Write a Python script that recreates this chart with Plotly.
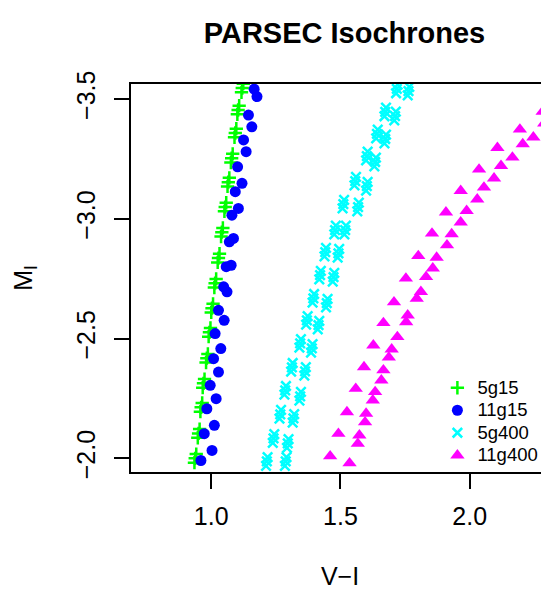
import plotly.graph_objects as go

# ---------------- data ----------------
series_names = ["5g15", "11g15", "5g400", "11g400"]

# 5g15 (green +)
green_x = [1.117, 1.120, 1.124, 1.101, 1.104, 1.108, 1.090, 1.093, 1.097,
           1.076, 1.079, 1.083, 1.063, 1.066, 1.070, 1.051, 1.054, 1.058,
           1.038, 1.041, 1.045, 1.025, 1.028, 1.032, 1.012, 1.015, 1.019,
           1.000, 1.003, 1.007, 0.990, 0.993, 0.997, 0.980, 0.983, 0.987,
           0.967, 0.970, 0.974, 0.958, 0.961, 0.965, 0.948, 0.951, 0.955,
           0.935, 0.938, 0.942]
green_y = [-3.528, -3.546, -3.564, -3.436, -3.454, -3.472, -3.340, -3.358, -3.376,
           -3.235, -3.253, -3.271, -3.135, -3.153, -3.171, -3.031, -3.049, -3.067,
           -2.926, -2.944, -2.962, -2.818, -2.836, -2.854, -2.713, -2.731, -2.749,
           -2.609, -2.627, -2.645, -2.508, -2.526, -2.544, -2.400, -2.418, -2.436,
           -2.295, -2.313, -2.331, -2.195, -2.213, -2.231, -2.086, -2.104, -2.122,
           -1.982, -2.000, -2.018]

# 11g15 (blue dots), two interleaved runs
blue_a_x = [1.166, 1.144, 1.125, 1.102, 1.093, 1.080, 1.070, 1.058, 1.048, 1.028,
            1.015, 1.009, 0.996, 0.983, 0.973, 0.960]
blue_a_y = [-3.541, -3.433, -3.329, -3.217, -3.113, -3.015, -2.904, -2.800, -2.716, -2.618,
            -2.521, -2.416, -2.305, -2.207, -2.103, -1.991]
blue_b_x = [1.177, 1.157, 1.135, 1.119, 1.105, 1.086, 1.077, 1.061, 1.050, 1.037,
            1.028, 1.019, 1.012, 1.003]
blue_b_y = [-3.510, -3.384, -3.280, -3.148, -3.043, -2.918, -2.806, -2.695, -2.576, -2.458,
            -2.360, -2.249, -2.138, -2.033]

# 5g400 (cyan x), two columns of stacked crosses
cyan_l_up_x = [1.721, 1.676, 1.644, 1.605, 1.560, 1.514, 1.482, 1.444, 1.424, 1.398,
               1.373, 1.347, 1.315, 1.289, 1.270, 1.244, 1.218]
cyan_l_up_y = [-3.560, -3.464, -3.372, -3.280, -3.175, -3.079, -2.971, -2.879, -2.783, -2.686,
               -2.594, -2.498, -2.398, -2.302, -2.202, -2.101, -2.005]
cyan_l_mid_x = [1.718, 1.673, 1.641, 1.602, 1.557, 1.511, 1.479, 1.441, 1.421, 1.395,
                1.370, 1.344, 1.312, 1.286, 1.267, 1.241, 1.215]
cyan_l_mid_y = [-3.542, -3.446, -3.354, -3.262, -3.157, -3.061, -2.953, -2.861, -2.765, -2.668,
                -2.576, -2.480, -2.380, -2.284, -2.184, -2.083, -1.987]
cyan_l_lo_x = [1.715, 1.670, 1.638, 1.599, 1.554, 1.508, 1.476, 1.438, 1.418, 1.392,
               1.367, 1.341, 1.309, 1.283, 1.264, 1.238, 1.212]
cyan_l_lo_y = [-3.524, -3.428, -3.336, -3.244, -3.139, -3.043, -2.935, -2.843, -2.747, -2.650,
               -2.558, -2.462, -2.362, -2.266, -2.166, -2.065, -1.969]
cyan_r_up_x = [1.766, 1.714, 1.676, 1.637, 1.605, 1.571, 1.521, 1.495, 1.476, 1.450,
               1.418, 1.392, 1.366, 1.347, 1.321, 1.299, 1.291]
cyan_r_up_y = [-3.551, -3.447, -3.351, -3.255, -3.154, -3.067, -2.971, -2.874, -2.774, -2.666,
               -2.574, -2.477, -2.381, -2.277, -2.185, -2.080, -2.005]
cyan_r_mid_x = [1.763, 1.711, 1.673, 1.634, 1.602, 1.568, 1.518, 1.492, 1.473, 1.447,
                1.415, 1.389, 1.363, 1.344, 1.318, 1.296, 1.288]
cyan_r_mid_y = [-3.533, -3.429, -3.333, -3.237, -3.136, -3.049, -2.953, -2.856, -2.756, -2.648,
                -2.556, -2.459, -2.363, -2.259, -2.167, -2.062, -1.987]
cyan_r_lo_x = [1.760, 1.708, 1.670, 1.631, 1.599, 1.565, 1.515, 1.489, 1.470, 1.444,
               1.412, 1.386, 1.360, 1.341, 1.315, 1.293, 1.285]
cyan_r_lo_y = [-3.515, -3.411, -3.315, -3.219, -3.118, -3.031, -2.935, -2.838, -2.738, -2.630,
               -2.538, -2.441, -2.345, -2.241, -2.149, -2.044, -1.969]

# 11g400 (magenta triangles), two runs
mag_l_x = [1.460, 1.492, 1.525, 1.559, 1.591, 1.627, 1.666, 1.707, 1.753, 1.801,
           1.854, 1.908, 1.965, 2.036, 2.107, 2.194, 2.282, 2.370]
mag_l_y = [-2.009, -2.103, -2.193, -2.291, -2.381, -2.472, -2.565, -2.652, -2.751, -2.845,
           -2.939, -3.027, -3.117, -3.206, -3.296, -3.373, -3.447, -3.520]
mag_r_x = [2.288, 2.246, 2.205, 2.165, 2.121, 2.094, 2.055, 2.029, 1.988, 1.965,
           1.930, 1.912, 1.872, 1.857, 1.831, 1.811, 1.795, 1.760, 1.754, 1.720,
           1.698, 1.687, 1.666, 1.658, 1.634, 1.625, 1.599, 1.595, 1.573, 1.567, 1.535]
mag_r_y = [-3.398, -3.340, -3.312, -3.256, -3.221, -3.169, -3.131, -3.081, -3.033, -2.985,
           -2.936, -2.890, -2.838, -2.793, -2.757, -2.695, -2.667, -2.597, -2.569, -2.507,
           -2.455, -2.421, -2.368, -2.326, -2.277, -2.242, -2.187, -2.151, -2.096, -2.061, -1.980]

x_ticks = [1.0, 1.5, 2.0]
x_ticklabels = ["1.0", "1.5", "2.0"]
y_ticks = [-3.5, -3.0, -2.5, -2.0]
y_ticklabels = ["\u22123.5", "\u22123.0", "\u22122.5", "\u22122.0"]

FONT = "Liberation Sans, Arial, Helvetica, sans-serif"


def legend_label(s):
    return '<span style="font-size:18.5px">' + s + '</span>'


fig = go.Figure()
fig.add_trace(go.Scatter(
    x=green_x, y=green_y, mode="markers", name=legend_label(series_names[0]),
    marker=dict(symbol="cross-thin", size=9.5, color="#00FF00",
                line=dict(width=2.5, color="#00FF00"))))
fig.add_trace(go.Scatter(
    x=blue_a_x + blue_b_x, y=blue_a_y + blue_b_y, mode="markers",
    name=legend_label(series_names[1]),
    marker=dict(symbol="circle", size=11, color="#0000FF", line=dict(width=0))))
fig.add_trace(go.Scatter(
    x=cyan_l_up_x + cyan_l_mid_x + cyan_l_lo_x + cyan_r_up_x + cyan_r_mid_x + cyan_r_lo_x,
    y=cyan_l_up_y + cyan_l_mid_y + cyan_l_lo_y + cyan_r_up_y + cyan_r_mid_y + cyan_r_lo_y,
    mode="markers", name=legend_label(series_names[2]),
    marker=dict(symbol="x-thin", size=9.5, color="#00FFFF",
                line=dict(width=2.5, color="#00FFFF"))))
fig.add_trace(go.Scatter(
    x=mag_l_x + mag_r_x, y=mag_l_y + mag_r_y, mode="markers",
    name=legend_label(series_names[3]),
    marker=dict(symbol="triangle-up", size=12.5, color="#FF00FF", line=dict(width=0))))

fig.update_layout(
    width=541, height=582,
    margin=dict(l=123, r=0, t=76, b=118),
    paper_bgcolor="white", plot_bgcolor="white",
    font=dict(family=FONT, color="black"),
    title=dict(text="<b>PARSEC Isochrones</b>", x=0.622, xanchor="center",
               y=1 - 25 / 582, yanchor="middle",
               font=dict(family=FONT, size=29, color="black")),
    showlegend=True,
    legend=dict(x=0.733, y=0.259, xanchor="left", yanchor="top",
                bgcolor="rgba(0,0,0,0)", font=dict(family=FONT, size=15, color="black")),
)
fig.update_xaxes(
    range=[0.6896, 2.3066], tickvals=x_ticks, ticktext=x_ticklabels,
    ticks="outside", ticklen=15, tickwidth=1.5, tickcolor="black",
    showline=True, linecolor="black", linewidth=1.5, mirror=True,
    showgrid=False, zeroline=False, ticklabelstandoff=6, automargin=False,
    tickfont=dict(family=FONT, size=25, color="black"),
    title=dict(text="V\u2212I", font=dict(family=FONT, size=25, color="black"), standoff=50),
)
fig.update_yaxes(
    range=[-1.943, -3.5626], tickvals=y_ticks, ticktext=y_ticklabels, tickangle=-90,
    ticks="outside", ticklen=15, tickwidth=1.5, tickcolor="black",
    showline=True, linecolor="black", linewidth=1.5, mirror=False,
    showgrid=False, zeroline=False, ticklabelstandoff=9, automargin=False,
    tickfont=dict(family=FONT, size=25, color="black"),
    title=dict(text="M<sub>I</sub>", font=dict(family=FONT, size=25, color="black"), standoff=33),
)

fig.write_html("out.html")
